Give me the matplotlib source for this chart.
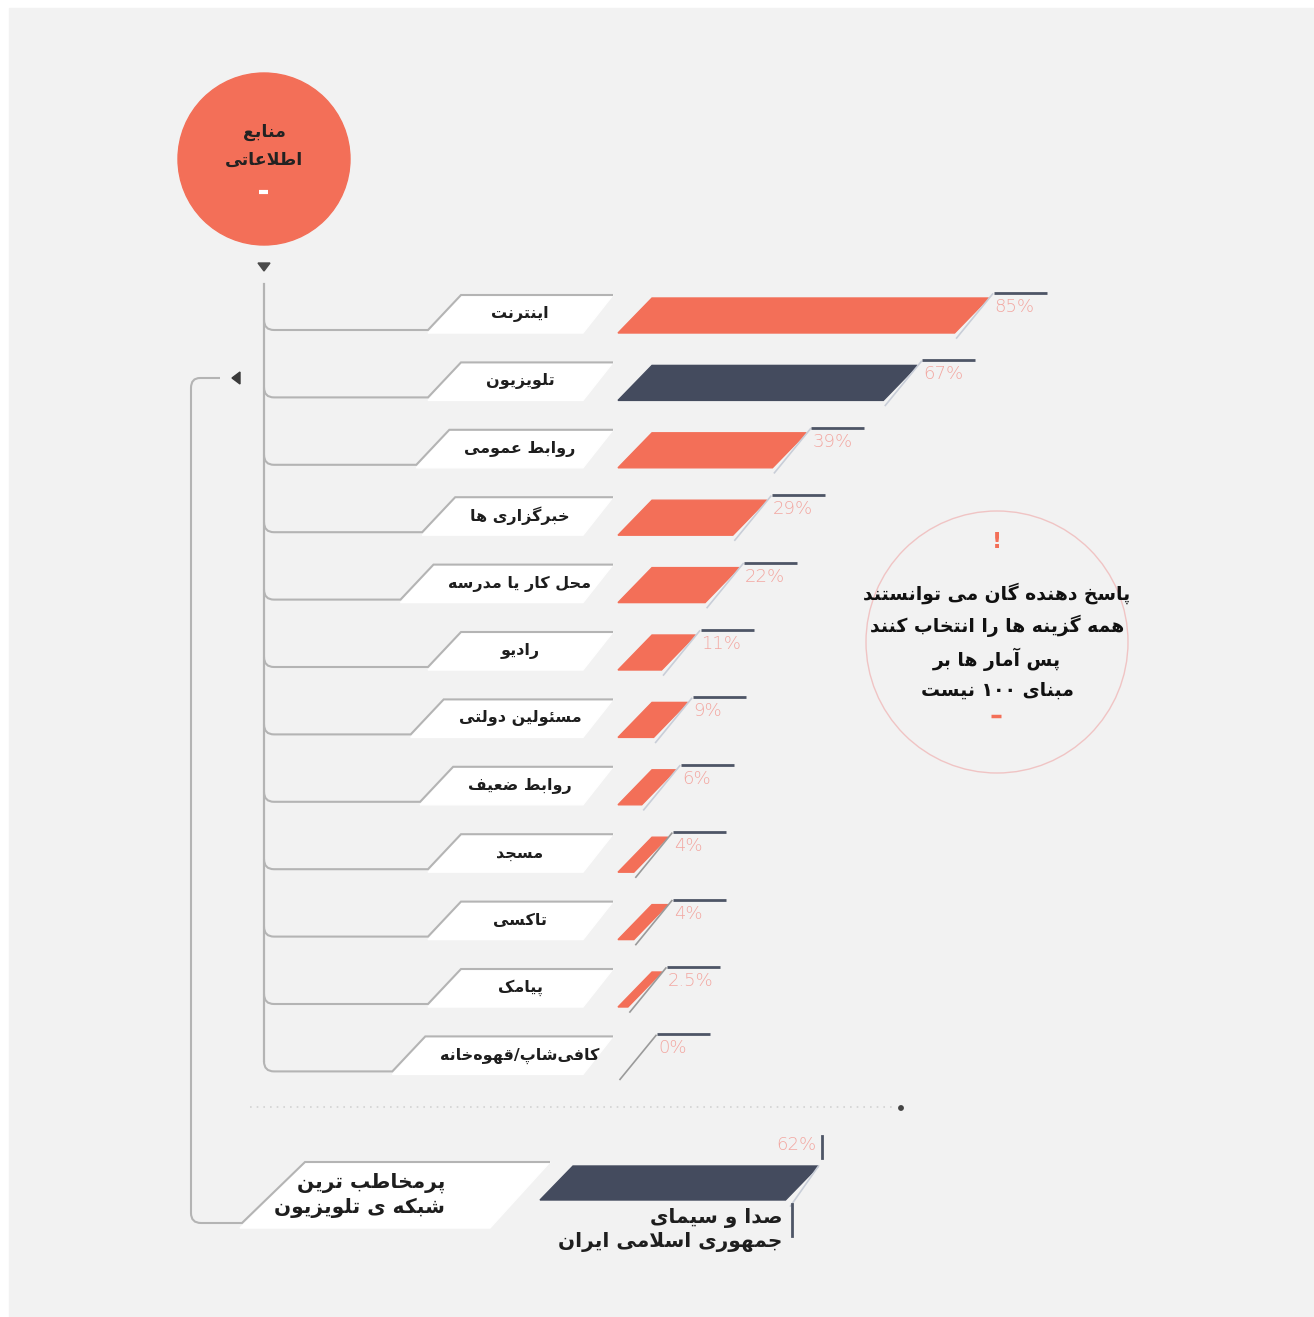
import re
import matplotlib
matplotlib.use('Agg')
import matplotlib.pyplot as plt
from matplotlib.patches import Polygon, Circle, Rectangle, PathPatch
from matplotlib.path import Path

# survey data
sources = ['اینترنت', 'تلویزیون', 'روابط عمومی', 'خبرگزاری ها', 'محل کار یا مدرسه',
           'رادیو', 'مسئولین دولتی', 'روابط ضعیف', 'مسجد', 'تاکسی', 'پیامک',
           'کافی\u200cشاپ/قهوه\u200cخانه']
shares = [85, 67, 39, 29, 22, 11, 9, 6, 4, 4, 2.5, 0]
dark_source = 'تلویزیون'

title = 'منابع\nاطلاعاتی'
note = 'پاسخ دهنده گان می توانستند\nهمه گزینه ها را انتخاب کنند\nپس آمار ها بر\nمبنای ۱۰۰ نیست'
channel_question = 'پرمخاطب ترین\nشبکه ی تلویزیون'
channel_name = 'صدا و سیمای\nجمهوری اسلامی ایران'
channel_share = 62

# colours
BG = '#f2f2f2'
RED = '#f36f58'
DARK = '#444b5e'
PINK = '#f3a7a1'
GREY = '#b4b4b4'

# --- minimal persian shaping (presentation forms + right-to-left order) ---
FORMS = {
    'ا': ('\uFE8D', '\uFE8E', None, None), 'آ': ('\uFE81', '\uFE82', None, None),
    'ب': ('\uFE8F', '\uFE90', '\uFE91', '\uFE92'), 'پ': ('\uFB56', '\uFB57', '\uFB58', '\uFB59'),
    'ت': ('\uFE95', '\uFE96', '\uFE97', '\uFE98'), 'ث': ('\uFE99', '\uFE9A', '\uFE9B', '\uFE9C'),
    'ج': ('\uFE9D', '\uFE9E', '\uFE9F', '\uFEA0'), 'چ': ('\uFB7A', '\uFB7B', '\uFB7C', '\uFB7D'),
    'ح': ('\uFEA1', '\uFEA2', '\uFEA3', '\uFEA4'), 'خ': ('\uFEA5', '\uFEA6', '\uFEA7', '\uFEA8'),
    'د': ('\uFEA9', '\uFEAA', None, None), 'ذ': ('\uFEAB', '\uFEAC', None, None),
    'ر': ('\uFEAD', '\uFEAE', None, None), 'ز': ('\uFEAF', '\uFEB0', None, None),
    'ژ': ('\uFB8A', '\uFB8B', None, None),
    'س': ('\uFEB1', '\uFEB2', '\uFEB3', '\uFEB4'), 'ش': ('\uFEB5', '\uFEB6', '\uFEB7', '\uFEB8'),
    'ص': ('\uFEB9', '\uFEBA', '\uFEBB', '\uFEBC'), 'ض': ('\uFEBD', '\uFEBE', '\uFEBF', '\uFEC0'),
    'ط': ('\uFEC1', '\uFEC2', '\uFEC3', '\uFEC4'), 'ظ': ('\uFEC5', '\uFEC6', '\uFEC7', '\uFEC8'),
    'ع': ('\uFEC9', '\uFECA', '\uFECB', '\uFECC'), 'غ': ('\uFECD', '\uFECE', '\uFECF', '\uFED0'),
    'ف': ('\uFED1', '\uFED2', '\uFED3', '\uFED4'), 'ق': ('\uFED5', '\uFED6', '\uFED7', '\uFED8'),
    'ک': ('\uFB8E', '\uFB8F', '\uFB90', '\uFB91'), 'گ': ('\uFB92', '\uFB93', '\uFB94', '\uFB95'),
    'ل': ('\uFEDD', '\uFEDE', '\uFEDF', '\uFEE0'), 'م': ('\uFEE1', '\uFEE2', '\uFEE3', '\uFEE4'),
    'ن': ('\uFEE5', '\uFEE6', '\uFEE7', '\uFEE8'), 'و': ('\uFEED', '\uFEEE', None, None),
    'ه': ('\uFEE9', '\uFEEA', '\uFEEB', '\uFEEC'), 'ی': ('\uFBFC', '\uFBFD', '\uFBFE', '\uFBFF'),
    'ئ': ('\uFE89', '\uFE8A', '\uFE8B', '\uFE8C'),
}
LAM_ALEF = {'ا': ('\uFEFB', '\uFEFC'), 'آ': ('\uFEF5', '\uFEF6')}


def joins_next(c):
    return c in FORMS and FORMS[c][2] is not None


def fa_line(text):
    out = []
    i, n = 0, len(text)
    while i < n:
        c = text[i]
        if c not in FORMS:
            if c != '\u200c':
                out.append(c)
            i += 1
            continue
        p = i > 0 and joins_next(text[i - 1])
        if c == 'ل' and i + 1 < n and text[i + 1] in LAM_ALEF:
            iso, fin = LAM_ALEF[text[i + 1]]
            out.append(fin if p else iso)
            i += 2
            continue
        q = i + 1 < n and text[i + 1] in FORMS and FORMS[c][2] is not None
        iso, fin, ini, med = FORMS[c]
        out.append(med if (p and q) else fin if p else ini if q else iso)
        i += 1
    s = ''.join(reversed(out))
    return re.sub(r'[0-9۰-۹]+', lambda m: m.group(0)[::-1], s)


def fa(text):
    return '\n'.join(fa_line(t) for t in text.split('\n'))


plt.rcParams['font.family'] = ['DejaVu Sans']

fig = plt.figure(figsize=(13.14, 13.17), dpi=100, facecolor='white')
ax = fig.add_axes([0, 0, 1, 1])
ax.set_xlim(0, 1314)
ax.set_ylim(1317, 0)
ax.axis('off')

ax.add_patch(Rectangle((9, 8), 1310, 1312, color=BG, zorder=0))

# header circle
ax.add_patch(Circle((264, 159), 86, color=RED, zorder=2))
ax.text(264, 146, fa(title), ha='center', va='center', fontsize=12.5, fontweight='bold',
        color='#222222', linespacing=1.65, zorder=3)
ax.plot([259, 268], [192, 192], color='white', lw=3, solid_capstyle='butt', zorder=3)
ax.add_patch(Polygon([(258, 263), (270, 263), (264, 271)], color='#4a4a4a', zorder=3))

# layout of the rows
x_spine = 264
row_top = 314
row_step = 67.4
box_right = 613
bar_x0 = 618
slant = 34
px_per_pct = 3.96
half = 19

rows = [row_top + i * row_step for i in range(len(sources))]
last_bottom = rows[-1] + half - 3
ax.plot([x_spine, x_spine], [284, last_bottom - 10], color=GREY, lw=1.6, zorder=2)

renderer = fig.canvas.get_renderer()

for name, val, yc in zip(sources, shares, rows):
    yt, yb = yc - half, yc + half
    t = ax.text(520, yc, fa(name), ha='center', va='center', fontsize=11.5,
                fontweight='bold', color='#1e1e1e', zorder=4)
    w = t.get_window_extent(renderer).width
    xl = min(428, 520 - w / 2 - 48)
    # white label box
    ax.add_patch(Polygon([(xl, yb), (xl + 33, yt), (box_right, yt), (box_right - 30, yb)],
                         color='white', zorder=2))
    # connector from the spine
    ly = yb - 3
    verts = [(x_spine, ly - 10), (x_spine, ly), (x_spine + 10, ly), (xl, ly), (xl + 33, yt),
             (box_right, yt)]
    codes = [Path.MOVETO, Path.CURVE3, Path.CURVE3, Path.LINETO, Path.LINETO, Path.LINETO]
    ax.add_patch(PathPatch(Path(verts, codes), fill=False, edgecolor=GREY, lw=1.5, zorder=3))

    # slanted bar
    L = val * px_per_pct
    bt = yb - 35
    col = DARK if name == dark_source else RED
    if L > 0:
        ax.add_patch(Polygon([(bar_x0, yb), (bar_x0 + slant, bt), (bar_x0 + slant + L, bt),
                              (bar_x0 + L, yb)], color=col, zorder=3))
    xe = bar_x0 + L
    line_col = '#c9ced8' if L > 20 else '#9a9a9a'
    ax.plot([xe + 2, xe + slant + 4], [yb + 5, bt - 4], color=line_col, lw=1.2, zorder=3)
    ax.plot([xe + slant + 5, xe + slant + 58], [bt - 5, bt - 5], color='#4e5566', lw=2,
            solid_capstyle='butt', zorder=3)
    ax.text(xe + slant + 6, yc - 7, f'{val:g}%', ha='left', va='center', fontsize=13,
            fontweight='light', color=PINK, zorder=4)

# dotted separator
ax.plot([250, 893], [1107, 1107], color='#d2d2d2', lw=1.2, ls=(0, (1, 3)), zorder=2)
ax.add_patch(Circle((901, 1108), 2.2, color='#444444', zorder=3))

# bracket from the tv row to the channel question
yt2, yb2 = 1162, 1226
ax.add_patch(Polygon([(240, yb2 + 2), (305, yt2), (550, yt2), (490, yb2 + 2)],
                     color='white', zorder=2))
verts = [(220, 378), (200, 378), (191, 378), (191, 388), (191, 1213), (191, 1223),
         (201, 1223), (242, 1223), (305, yt2), (550, yt2)]
codes = [Path.MOVETO, Path.LINETO, Path.CURVE3, Path.CURVE3, Path.LINETO, Path.CURVE3,
         Path.CURVE3, Path.LINETO, Path.LINETO, Path.LINETO]
ax.add_patch(PathPatch(Path(verts, codes), fill=False, edgecolor=GREY, lw=1.5, zorder=3))
ax.add_patch(Polygon([(232, 378), (240, 372), (240, 384)], color='#3a3a3a', zorder=3))
ax.text(445, 1195, fa(channel_question), ha='right', va='center', fontsize=14.5,
        fontweight='bold', color='#1e1e1e', linespacing=1.3, multialignment='right', zorder=4)

# channel bar
cx0, cyb = 540, 1200
L = channel_share * px_per_pct
ax.add_patch(Polygon([(cx0, cyb), (cx0 + 33, cyb - 34), (cx0 + 33 + L, cyb - 34),
                      (cx0 + L, cyb)], color=DARK, zorder=3))
xe = cx0 + 33 + L
ax.plot([xe, xe - 28], [cyb - 34, cyb + 6], color='#c9ced8', lw=1.2, zorder=3)
ax.plot([xe + 3, xe + 3], [1136, 1158], color='#4e5566', lw=2, zorder=3)
ax.text(xe - 2, 1145, f'{channel_share:g}%', ha='right', va='center', fontsize=13,
        fontweight='light', color=PINK, zorder=4)
ax.plot([xe - 27, xe - 27], [1204, 1236], color='#4e5566', lw=2, zorder=3)
ax.text(xe - 36, 1230, fa(channel_name), ha='right', va='center', fontsize=14.5,
        fontweight='bold', color='#1e1e1e', linespacing=1.3, multialignment='right', zorder=4)

# note circle
ax.add_patch(Circle((997, 642), 131, facecolor='none', edgecolor='#f0c4c4', lw=1, zorder=2))
ax.text(997, 542, '!', ha='center', va='center', fontsize=16, fontweight='bold',
        color=RED, zorder=3)
ax.text(997, 641, fa(note), ha='center', va='center', fontsize=13.5, fontweight='bold',
        color='#111111', linespacing=1.6, zorder=3)
ax.plot([991, 1001], [716, 716], color=RED, lw=2.5, solid_capstyle='butt', zorder=3)

fig.savefig('out.png', dpi=100, facecolor=fig.get_facecolor())
